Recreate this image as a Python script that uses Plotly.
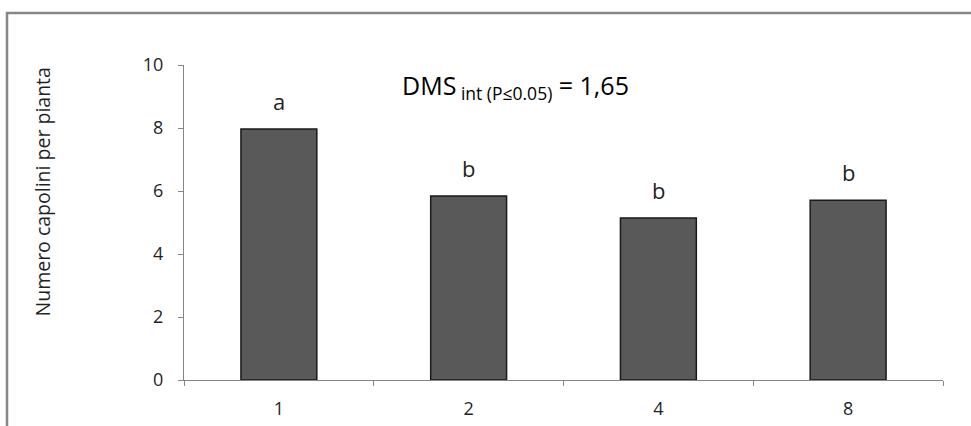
import plotly.graph_objects as go

categories = ["1", "2", "4", "8"]
values = [7.97, 5.84, 5.14, 5.71]
letters = ["a", "b", "b", "b"]
y_ticks = [0, 2, 4, 6, 8, 10]
y_title = "Numero capolini per pianta"
dms_text = "DMS<sub> int (P≤0.05)</sub> = 1,65"

W, H = 971, 426
L, R, T, B = 184, 943, 65, 380  # plot area in pixels
pw, ph = R - L, B - T

def px_x(p):
    return (p - L) / pw

def px_y(p):
    return (B - p) / ph

FONT = "Open Sans"
AXC = "#868686"
TXT = "#1f1f1f"

fig = go.Figure()
fig.add_trace(go.Bar(
    x=categories, y=values, width=0.4,
    marker=dict(color="#595959", line=dict(color="#1a1a1a", width=1.5)),
    showlegend=False, hoverinfo="skip",
))

for i, (v, t) in enumerate(zip(values, letters)):
    fig.add_annotation(x=i, y=v, xref="x", yref="y", text=t, showarrow=False,
                       yanchor="middle", yshift=28,
                       font=dict(family=FONT, size=22, color=TXT))

fig.add_annotation(x=px_x(400), y=px_y(86), xref="paper", yref="paper",
                   text=dms_text, showarrow=False, xanchor="left", yanchor="middle",
                   font=dict(family=FONT, size=25, color="#000000"))

fig.add_annotation(x=px_x(42), y=px_y(192.5), xref="paper", yref="paper",
                   text=y_title, showarrow=False, textangle=-90,
                   xanchor="center", yanchor="middle",
                   font=dict(family=FONT, size=19.5, color=TXT))

fig.add_shape(type="rect", xref="paper", yref="paper",
              x0=px_x(7), x1=px_x(990), y0=px_y(445), y1=px_y(13),
              line=dict(color=AXC, width=2.5), fillcolor="rgba(0,0,0,0)")

fig.update_layout(
    width=W, height=H,
    margin=dict(l=L, r=W - R, t=T, b=H - B, autoexpand=False),
    paper_bgcolor="white", plot_bgcolor="white",
    font=dict(family=FONT, size=18, color=TXT),
    bargap=0.6,
)
fig.update_xaxes(
    type="category", range=[-0.5, 3.5], showline=True, linecolor=AXC, linewidth=1,
    ticks="outside", tickson="boundaries", ticklen=5, tickcolor=AXC,
    showgrid=False, zeroline=False, ticklabelstandoff=12,
    tickfont=dict(family=FONT, size=18, color=TXT),
)
fig.update_yaxes(
    range=[0, 10], tickvals=y_ticks, showline=True, linecolor=AXC, linewidth=1,
    ticks="outside", ticklen=5, tickcolor=AXC, showgrid=False, zeroline=False,
    ticklabelstandoff=11,
    tickfont=dict(family=FONT, size=18, color=TXT),
)

fig.write_html("out.html", config={"displayModeBar": False},
               post_script="document.body.style.margin='0';document.body.style.overflow='hidden';")
